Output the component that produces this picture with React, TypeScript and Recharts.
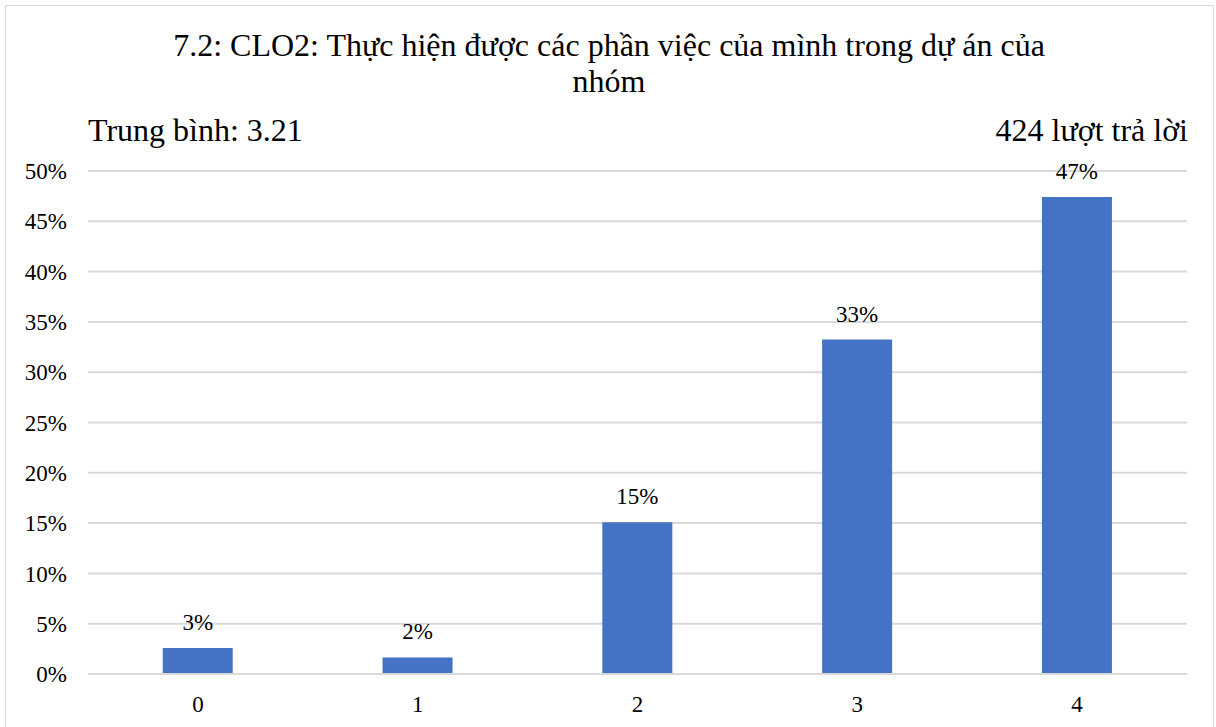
import { Bar, BarChart, CartesianGrid, LabelList, XAxis, YAxis } from "recharts";

const categories = ["0", "1", "2", "3", "4"];
const shares = [0.0259, 0.0165, 0.1509, 0.3325, 0.4741];
const yTicks = [0, 0.05, 0.1, 0.15, 0.2, 0.25, 0.3, 0.35, 0.4, 0.45, 0.5];

const titleLines = ["7.2: CLO2: Thực hiện được các phần việc của mình trong dự án của", "nhóm"];
const averageText = "Trung bình: 3.21";
const countText = "424 lượt trả lời";

const FONT = "'Liberation Serif', 'Times New Roman', serif";
const pct = (v: number) => `${Math.round(v * 100)}%`;

export default function App() {
  const data = categories.map((c, i) => ({ name: c, value: shares[i] }));

  return (
    <div
      style={{
        position: "absolute",
        left: 0,
        top: 0,
        width: 1216,
        height: 727,
        overflow: "hidden",
        background: "#fff",
        fontFamily: FONT,
      }}
    >
      <div
        style={{
          position: "absolute",
          left: 5,
          top: 5,
          width: 1207,
          height: 740,
          border: "1px solid #d9d9d9",
        }}
      />
      <div
        style={{
          position: "absolute",
          left: 0,
          top: 27,
          width: 1218,
          textAlign: "center",
          fontSize: 32,
          lineHeight: "36px",
          color: "#000",
        }}
      >
        {titleLines.map((l) => (
          <div key={l}>{l}</div>
        ))}
      </div>
      <div
        style={{ position: "absolute", left: 88, top: 110, fontSize: 32, lineHeight: "40px", color: "#000" }}
      >
        {averageText}
      </div>
      <div
        style={{ position: "absolute", right: 28, top: 110, fontSize: 32, lineHeight: "40px", color: "#000" }}
      >
        {countText}
      </div>
      <BarChart
        width={1216}
        height={727}
        data={data}
        margin={{ top: 171, right: 29, bottom: 23, left: 20 }}
        barCategoryGap="34%"
      >
        <CartesianGrid vertical={false} stroke="#d9d9d9" strokeWidth={2} />
        <XAxis
          dataKey="name"
          axisLine={{ stroke: "#d9d9d9", strokeWidth: 2 }}
          tickLine={false}
          tickMargin={16}
          tick={{ fill: "#000", fontSize: 23, fontFamily: FONT }}
        />
        <YAxis
          width={68}
          domain={[0, 0.5]}
          ticks={yTicks}
          tickFormatter={pct}
          axisLine={false}
          tickLine={false}
          tickMargin={15}
          tick={{ fill: "#000", fontSize: 23, fontFamily: FONT }}
        />
        <Bar dataKey="value" fill="#4472C4" isAnimationActive={false}>
          <LabelList
            dataKey="value"
            position="top"
            offset={18}
            formatter={(v: any) => pct(Number(v))}
            style={{ fill: "#000", fontSize: 23, fontFamily: FONT }}
          />
        </Bar>
      </BarChart>
    </div>
  );
}
